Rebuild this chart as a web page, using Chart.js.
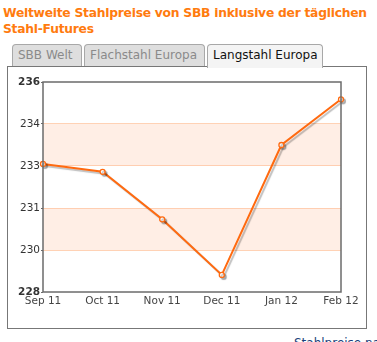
<!DOCTYPE html>
<html>
<head>
<meta charset="utf-8">
<script src="https://cdn.jsdelivr.net/npm/chart.js@4.4.0/dist/chart.umd.min.js"></script>
<style>
  body { margin: 0; background: #fff; font-family: "DejaVu Sans", Verdana, sans-serif; }
  #wrap { position: relative; width: 377px; height: 342px; overflow: hidden; }
  #title { position: absolute; left: 3px; top: 5px; width: 372px; color: #ff7b0f; font-weight: bold; font-size: 12.3px; letter-spacing: -0.25px; line-height: 16px; }
  .tab { position: absolute; top: 44px; height: 22px; box-sizing: border-box; border: 1px solid #a8a8a8; border-bottom: none; border-radius: 4px 4px 0 0; background: #dedede; color: #8a8a8a; font-size: 12px; line-height: 21px; padding-left: 5px; }
  .tab.active { background: #f4f4f4; color: #111; height: 24px; z-index: 2; }
  #panel { position: absolute; left: 7px; top: 66px; width: 360px; height: 263px; box-sizing: border-box; border: 1px solid #777; background: #fff; }
  #chartBox { position: absolute; left: 0; top: 0; width: 358px; height: 261px; }
  #link { position: absolute; left: 294px; top: 336px; color: #1a3f7a; font-size: 12px; white-space: nowrap; }
</style>
</head>
<body>
<div id="wrap">
  <div id="title">Weltweite Stahlpreise von SBB inklusive der täglichen Stahl-Futures</div>
  <div class="tab" style="left:12px;width:70px;">SBB Welt</div>
  <div class="tab" style="left:84px;width:121px;">Flachstahl Europa</div>
  <div class="tab active" style="left:207px;width:116px;">Langstahl Europa</div>
  <div id="panel">
    <div id="chartBox"><canvas id="priceChart"></canvas></div>
  </div>
  <div id="link">Stahlpreise nach Region</div>
</div>
<script>
// chart data
const months = ['Sep 11', 'Oct 11', 'Nov 11', 'Dec 11', 'Jan 12', 'Feb 12'];
const prices = [232.88, 232.58, 230.77, 228.65, 233.6, 235.34];
const yTicks = [228, 229.6, 231.2, 232.8, 234.4, 236];

const orange = '#ff6a10';

// alternating bands + plot frame
const bandPlugin = {
  id: 'bands',
  beforeDatasetsDraw(chart) {
    const { ctx, chartArea, scales } = chart;
    const y = scales.y;
    ctx.save();
    for (let i = 1; i < yTicks.length - 1; i += 2) {
      const top = y.getPixelForValue(yTicks[i + 1]);
      const bot = y.getPixelForValue(yTicks[i]);
      ctx.fillStyle = 'rgba(255, 200, 170, 0.3)';
      ctx.fillRect(chartArea.left, top, chartArea.right - chartArea.left, bot - top);
    }
    ctx.restore();
  },
  afterDraw(chart) {
    const { ctx, chartArea } = chart;
    ctx.save();
    ctx.strokeStyle = '#6b6b6b';
    ctx.lineWidth = 1.5;
    ctx.strokeRect(chartArea.left, chartArea.top, chartArea.right - chartArea.left, chartArea.bottom - chartArea.top);
    ctx.restore();
  }
};

// drop shadow under the line
const shadowPlugin = {
  id: 'lineShadow',
  beforeDatasetDraw(chart) {
    const ctx = chart.ctx;
    ctx.save();
    ctx.shadowColor = 'rgba(0, 0, 0, 0.25)';
    ctx.shadowOffsetX = 2;
    ctx.shadowOffsetY = 2;
    ctx.shadowBlur = 1;
  },
  afterDatasetDraw(chart) {
    chart.ctx.restore();
  }
};

new Chart(document.getElementById('priceChart'), {
  type: 'line',
  data: {
    labels: months,
    datasets: [{
      data: prices,
      borderColor: orange,
      borderWidth: 2,
      tension: 0,
      pointRadius: 2.5,
      pointBorderWidth: 1.3,
      pointBackgroundColor: '#fff',
      pointBorderColor: orange
    }]
  },
  options: {
    responsive: true,
    maintainAspectRatio: false,
    animation: false,
    layout: { padding: { left: 0, top: 15, right: 25, bottom: 0 } },
    plugins: { legend: { display: false }, tooltip: { enabled: false } },
    scales: {
      x: {
        offset: false,
        grid: { display: false },
        border: { display: false },
        ticks: {
          color: '#444',
          padding: -5,
          maxRotation: 0,
          font: { family: 'DejaVu Sans', size: 10.5 }
        },
        afterFit(scale) { scale.height = 36; }
      },
      y: {
        min: 228,
        max: 236,
        afterBuildTicks(scale) { scale.ticks = yTicks.map(v => ({ value: v })); },
        grid: {
          color: ctx => (ctx.index === 0 || ctx.index === yTicks.length - 1) ? 'rgba(0,0,0,0)' : '#ffd2b5',
          lineWidth: 1,
          drawTicks: true,
          tickLength: 2,
          tickColor: '#6b6b6b'
        },
        border: { display: false },
        ticks: {
          color: '#333',
          padding: 1,
          callback: v => Math.round(v),
          font: ctx => ({
            family: 'DejaVu Sans',
            size: 10.5,
            weight: (ctx.index === 0 || ctx.index === yTicks.length - 1) ? 'bold' : 'normal'
          })
        },
        afterFit(scale) { scale.width = 35; }
      }
    }
  },
  plugins: [bandPlugin, shadowPlugin]
});
</script>
</body>
</html>
